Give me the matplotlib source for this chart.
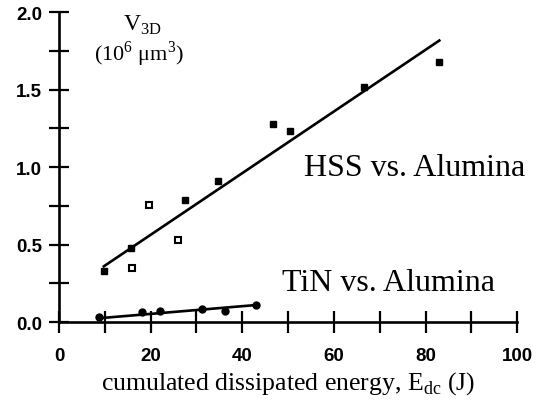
import numpy as np
import matplotlib.pyplot as plt
from matplotlib.ticker import MultipleLocator

# HSS vs. Alumina
hss_x_full = [9.8, 15.7, 27.6, 34.8, 46.8, 50.5, 66.5, 83.0]
hss_y_full = [0.33, 0.48, 0.79, 0.91, 1.28, 1.23, 1.52, 1.68]
hss_x_open = [16.0, 19.7, 26.0]
hss_y_open = [0.35, 0.755, 0.53]
hss_fit = [0.0199, 0.165]      # slope, intercept
hss_range = [9.8, 83.0]

# TiN vs. Alumina
tin_x = [8.8, 18.2, 22.1, 31.3, 36.3, 42.9]
tin_y = [0.03, 0.065, 0.07, 0.085, 0.07, 0.11]
tin_fit = [0.00249, 0.003]
tin_range = [8.8, 43.0]

fig = plt.figure(figsize=(5.36, 4.10), dpi=100)
ax = fig.add_axes([0.110, 0.212, 0.855, 0.756])

ax.plot(hss_x_full, hss_y_full, 's', color='black', ms=4.5)
ax.plot(hss_x_open, hss_y_open, 's', mfc='white', mec='black', mew=1.5, ms=5)
xl = np.array(hss_range)
ax.plot(xl, hss_fit[0] * xl + hss_fit[1], color='black', lw=1.9)

ax.plot(tin_x, tin_y, 'o', color='black', ms=5)
xl = np.array(tin_range)
ax.plot(xl, tin_fit[0] * xl + tin_fit[1], color='black', lw=1.9)

ax.set_xlim(0, 100)
ax.set_ylim(0, 2.0)
ax.spines['top'].set_visible(False)
ax.spines['right'].set_visible(False)
ax.spines['left'].set_linewidth(1.9)
ax.spines['bottom'].set_linewidth(1.9)
ax.xaxis.set_major_locator(MultipleLocator(20))
ax.xaxis.set_minor_locator(MultipleLocator(10))
ax.yaxis.set_major_locator(MultipleLocator(0.5))
ax.yaxis.set_minor_locator(MultipleLocator(0.25))
ax.tick_params(which='both', direction='inout', width=1.6, color='black')
ax.tick_params(axis='y', which='both', length=14, pad=5)
ax.tick_params(axis='x', which='both', length=16)
ax.tick_params(axis='x', which='major', pad=10)
for lab in ax.get_xticklabels() + ax.get_yticklabels():
    lab.set_family('Liberation Sans')
    lab.set_weight('bold')
    lab.set_fontsize(13.5)
ax.yaxis.set_major_formatter(plt.FormatStrFormatter('%.1f'))

serif = 'Liberation Serif'
ax.text(18.2, 1.885, r'V$_{\mathregular{3D}}$', family=serif, fontsize=17,
        ha='center', va='baseline')
ax.text(17.5, 1.69, r'(10$^{\mathregular{6}}$ $\mathregular{\mu}$m$^{\mathregular{3}}$)',
        family=serif, fontsize=16, ha='center', va='baseline')
ax.text(77.5, 0.95, 'HSS vs. Alumina', family=serif, fontsize=23,
        ha='center', va='baseline')
ax.text(72, 0.21, 'TiN vs. Alumina', family=serif, fontsize=23,
        ha='center', va='baseline')
ax.set_xlabel(r'cumulated dissipated energy, E$_{\mathregular{dc}}$ (J)',
              family=serif, fontsize=18.5, labelpad=4)

fig.savefig('out.png', dpi=100)
